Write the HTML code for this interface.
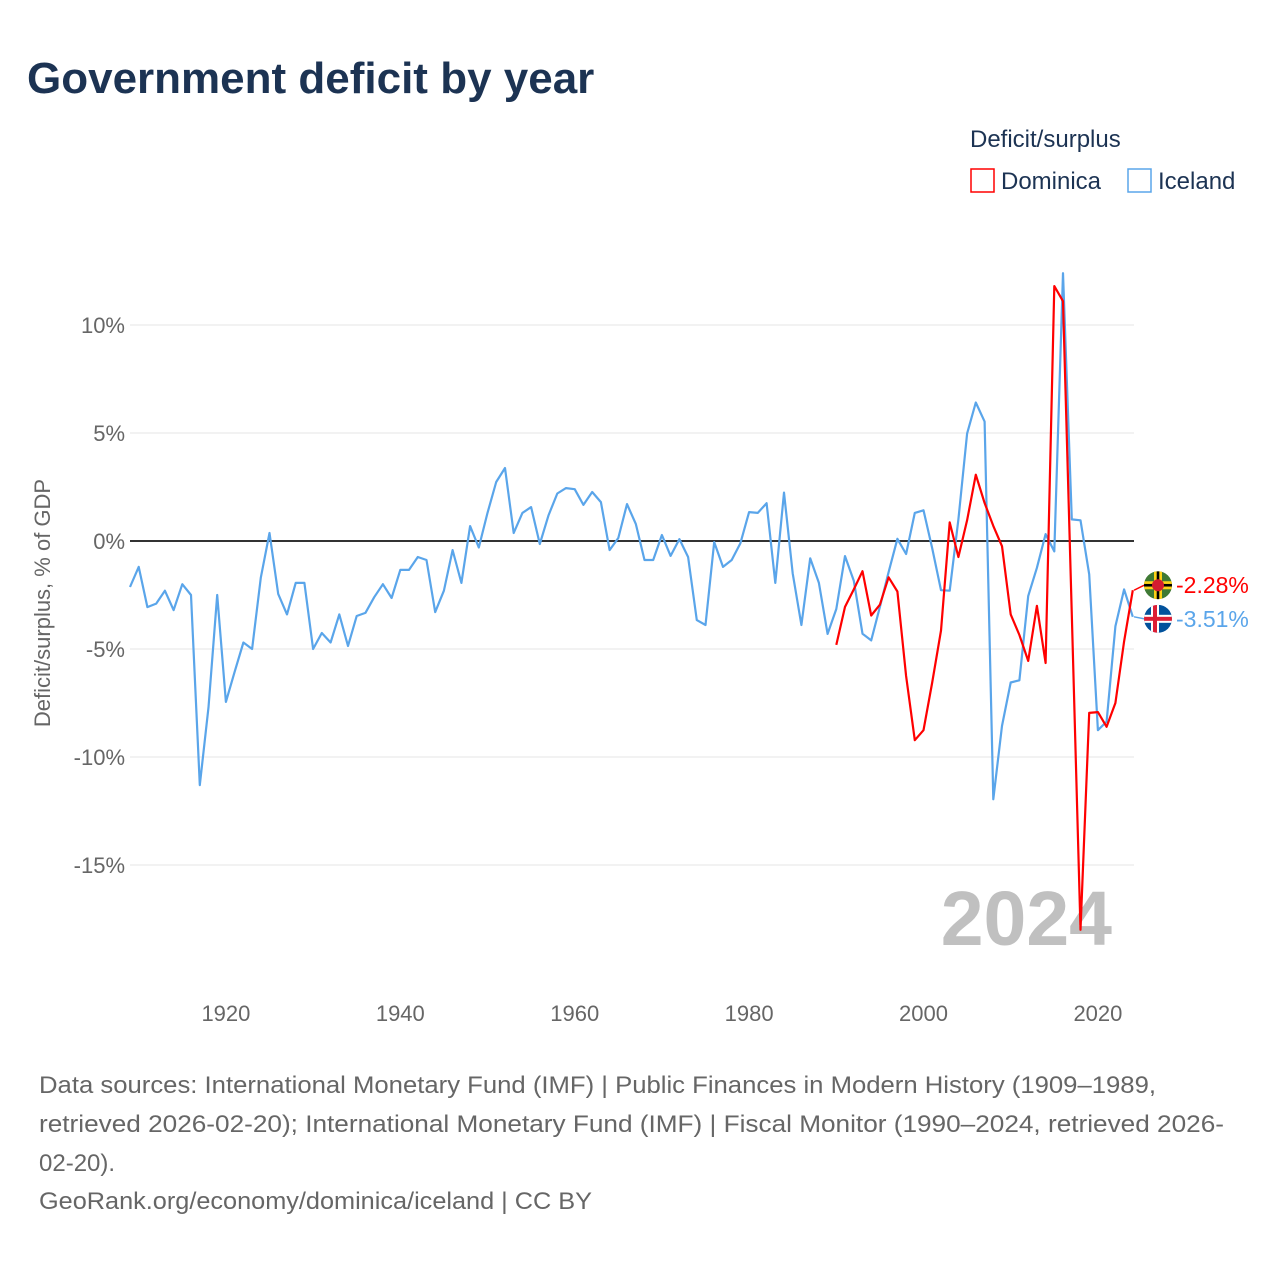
<!DOCTYPE html>
<html><head><meta charset="utf-8">
<style>
body{margin:0;background:#fff;font-family:"Liberation Sans",sans-serif;}
#wrap{position:relative;width:1280px;height:1280px;overflow:hidden;}
</style></head>
<body><div id="wrap">
<svg id="chart" width="1280" height="1280" xmlns="http://www.w3.org/2000/svg">
<text x="27" y="93" font-size="44" font-weight="bold" fill="#1c3353">Government deficit by year</text>
<text x="970" y="147" font-size="24" fill="#1c3353">Deficit/surplus</text>
<g><rect x="971" y="169" width="23" height="23" fill="none" stroke="#ff0000" stroke-width="1.5"/><text x="1001" y="189" font-size="24" fill="#1c3353">Dominica</text></g>
<g><rect x="1128" y="169" width="23" height="23" fill="none" stroke="#5aa5ea" stroke-width="1.5"/><text x="1158" y="189" font-size="24" fill="#1c3353">Iceland</text></g>
<text transform="translate(50,603) rotate(-90)" text-anchor="middle" font-size="22" fill="#666">Deficit/surplus, % of GDP</text>
<g id="grid"></g>
<text x="1112" y="945" text-anchor="end" font-size="77" font-weight="bold" fill="#c0c0c0">2024</text>
<g id="series"></g>
<g id="ends"></g>
<g font-size="24" fill="#666">
<text x="39" y="1093" textLength="1117" lengthAdjust="spacingAndGlyphs">Data sources: International Monetary Fund (IMF) | Public Finances in Modern History (1909–1989,</text>
<text x="39" y="1132" textLength="1185" lengthAdjust="spacingAndGlyphs">retrieved 2026-02-20); International Monetary Fund (IMF) | Fiscal Monitor (1990–2024, retrieved 2026-</text>
<text x="39" y="1171">02-20).</text>
<text x="39" y="1209" textLength="553" lengthAdjust="spacingAndGlyphs">GeoRank.org/economy/dominica/iceland | CC BY</text>
</g>
</svg></div>
<script>
const icelandStart = 1909;
const icelandValues = [-2.13,-1.2,-3.06,-2.9,-2.3,-3.2,-2.0,-2.5,-11.3,-7.7,-2.5,-7.45,-6.06,-4.7,-5.0,-1.7,0.37,-2.45,-3.4,-1.94,-1.94,-5.0,-4.26,-4.7,-3.4,-4.86,-3.47,-3.33,-2.6,-2.0,-2.64,-1.34,-1.34,-0.74,-0.88,-3.29,-2.3,-0.42,-1.94,0.69,-0.3,
1.3,2.73,3.38,0.37,1.3,1.57,-0.14,1.2,2.2,2.45,2.4,1.67,2.27,1.8,-0.42,0.14,1.71,0.79,-0.88,-0.88,0.28,-0.69,0.09,-0.74,-3.66,-3.89,-0.05,-1.2,-0.88,-0.1,1.34,1.3,1.75,-1.94,2.24,-1.5,-3.89,-0.8,-1.94,-4.3,
-3.15,-0.7,-1.84,-4.29,-4.6,-3.05,-1.44,0.1,-0.6,1.3,1.42,-0.34,-2.28,-2.3,1.0,4.97,6.41,5.53,-11.96,-8.56,-6.55,-6.45,-2.55,-1.24,0.32,-0.48,12.4,1.0,0.96,-1.54,-8.76,-8.36,-3.95,-2.24,-3.51];
const dominicaStart = 1990;
const dominicaValues = [-4.81,-3.05,-2.24,-1.4,-3.45,-2.95,-1.68,-2.34,-6.25,-9.22,-8.76,-6.55,-4.15,0.86,-0.74,0.96,3.07,1.76,0.7,-0.24,-3.4,-4.35,-5.55,-3.0,-5.65,11.8,11.1,-3.4,-18.0,-7.96,-7.92,-8.6,-7.5,-4.65,-2.28];
const yTicks = [10,5,0,-5,-10,-15];
const xTicks = [1920,1940,1960,1980,2000,2020];
const NS="http://www.w3.org/2000/svg";
const xS = yr => 130 + (yr-1909)*8.72;
const yS = v => 541 - v*21.6;
function mk(tag, attrs, parent){const e=document.createElementNS(NS,tag);for(const k in attrs)e.setAttribute(k,attrs[k]);parent.appendChild(e);return e;}
const grid=document.getElementById('grid');
yTicks.forEach(t=>{
  const l=mk('line',{x1:130,x2:1134,y1:yS(t),y2:yS(t),stroke:t===0?'#333':'#e6e6e6','stroke-width':t===0?2:1},grid);
  
  
  const tx=mk('text',{x:125,y:yS(t)+8,'text-anchor':'end','font-size':22,fill:'#666'},grid);
  tx.textContent=t+'%';
  
  
});
xTicks.forEach(t=>{
  const tx=mk('text',{x:xS(t),y:1021,'text-anchor':'middle','font-size':22,fill:'#666'},grid);
  tx.textContent=t;
  
  
});
const ser=document.getElementById('series');
function line(start, vals, color, name){
  const pts=vals.map((v,i)=>xS(start+i).toFixed(1)+','+yS(v).toFixed(1)).join(' ');
  const p=mk('polyline',{points:pts,fill:'none',stroke:color,'stroke-width':2.2,'stroke-linejoin':'round'},ser);
  
  
}
line(icelandStart, icelandValues, '#5aa5ea', 'iceland-line');
line(dominicaStart, dominicaValues, '#ff0000', 'dominica-line');
const ends=document.getElementById('ends');
const defs=mk('defs',{},ends);
const dv=dominicaValues[dominicaValues.length-1], iv=icelandValues[icelandValues.length-1];
const dy=yS(dv)-5, iy=yS(iv)+2;
const cx=1158;
const cd=mk('clipPath',{id:'cd'},defs);mk('circle',{cx:cx,cy:dy,r:14},cd);
const ci=mk('clipPath',{id:'ci'},defs);mk('circle',{cx:cx,cy:iy,r:14},ci);
mk('line',{x1:1134,x2:1144,y1:yS(dv),y2:dy,stroke:'#ff0000','stroke-width':1.5},ends);
mk('line',{x1:1134,x2:1144,y1:yS(iv),y2:iy,stroke:'#5aa5ea','stroke-width':1.5},ends);
const fd=mk('g',{'clip-path':'url(#cd)'},ends);


mk('rect',{x:cx-14,y:dy-14,width:28,height:28,fill:'#3f7a35'},fd);
mk('rect',{x:cx-14,y:dy-4,width:28,height:8,fill:'#fcd116'},fd);
mk('rect',{x:cx-4,y:dy-14,width:8,height:28,fill:'#fcd116'},fd);
mk('rect',{x:cx-14,y:dy-1.3,width:28,height:2.6,fill:'#000'},fd);
mk('rect',{x:cx-1.3,y:dy-14,width:2.6,height:28,fill:'#000'},fd);
mk('circle',{cx:cx,cy:dy,r:6,fill:'#d41c30'},fd);
const fi=mk('g',{'clip-path':'url(#ci)'},ends);


mk('rect',{x:cx-14,y:iy-14,width:28,height:28,fill:'#02529c'},fi);
mk('rect',{x:cx-14,y:iy-4,width:28,height:8,fill:'#fff'},fi);
mk('rect',{x:cx-7,y:iy-14,width:8,height:28,fill:'#fff'},fi);
mk('rect',{x:cx-14,y:iy-2,width:28,height:4,fill:'#dc1e35'},fi);
mk('rect',{x:cx-5,y:iy-14,width:4,height:28,fill:'#dc1e35'},fi);
const ld=mk('text',{x:1176,y:dy+8,'font-size':23,fill:'#ff0000'},ends);
ld.textContent=dv.toFixed(2)+'%';


const li=mk('text',{x:1176,y:iy+8,'font-size':23,fill:'#5aa5ea'},ends);
li.textContent=iv.toFixed(2)+'%';


</script>
</body></html>
